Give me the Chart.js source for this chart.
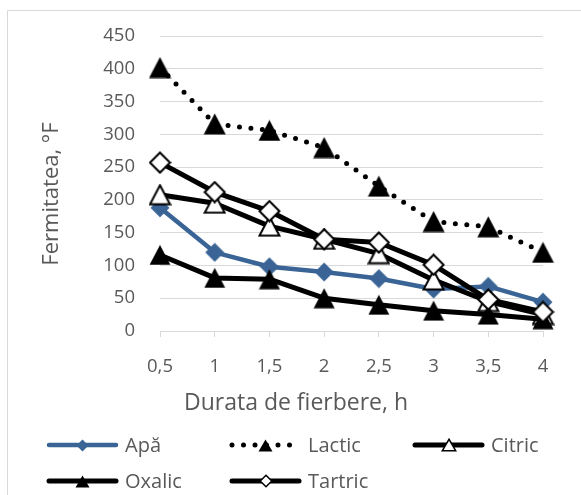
<!DOCTYPE html>
<html>
<head>
<meta charset="utf-8">
<script src="https://cdn.jsdelivr.net/npm/chart.js@4/dist/chart.umd.min.js"></script>
<style>
  html, body { margin: 0; padding: 0; background: #ffffff; }
  #wrap { width: 581px; height: 495px; position: relative; }
</style>
</head>
<body>
<div id="wrap"><canvas id="c" width="581" height="495"></canvas></div>
<script>
// Boiling time (h) and firmness (°F) for each soaking medium
const durations = ['0,5', '1', '1,5', '2', '2,5', '3', '3,5', '4'];
const apa     = [188, 120, 98, 90, 80, 64, 68, 44];
const lactic  = [402, 316, 306, 280, 221, 167, 159, 120];
const citric  = [208, 195, 160, 140, 118, 78, 45, 25];
const oxalic  = [116, 81, 79, 50, 40, 31, 25, 18];
const tartric = [257, 212, 183, 140, 135, 101, 48, 29];
const seriesNames = ['Apă', 'Lactic', 'Citric', 'Oxalic', 'Tartric'];
const xTitle = 'Durata de fierbere, h';
const yTitle = 'Fermitatea, °F';
const yMin = 0, yMax = 450, yStep = 50;

const FONT = "'Open Sans', sans-serif";
const TEXT = '#595959';
const GRID = '#d9d9d9';
const BLUE = '#3a6495';

// Marker sprites, centred on their bounding box
function marker(shape, w, h, fill, lw) {
  const c = document.createElement('canvas');
  c.width = w; c.height = h;
  const g = c.getContext('2d');
  const m = lw ? lw / 2 + 0.5 : 0.5;
  g.beginPath();
  if (shape === 'tri') {
    g.moveTo(w / 2, m); g.lineTo(w - m, h - m); g.lineTo(m, h - m);
  } else {
    g.moveTo(w / 2, m); g.lineTo(w - m, h / 2); g.lineTo(w / 2, h - m); g.lineTo(m, h / 2);
  }
  g.closePath();
  g.fillStyle = fill; g.fill();
  if (lw) { g.lineWidth = lw; g.strokeStyle = '#000'; g.lineJoin = 'miter'; g.stroke(); }
  return c;
}

const marks = {
  apa: marker('dia', 20, 20, BLUE, 0),
  lactic: marker('tri', 23, 22, '#000', 0),
  citric: marker('tri', 23, 22, '#fff', 2),
  oxalic: marker('tri', 22, 21, '#000', 0),
  tartric: marker('dia', 23, 23, '#fff', 2)
};
const legendMarks = [
  marker('dia', 13, 13, BLUE, 0),
  marker('tri', 15, 13, '#000', 0),
  marker('tri', 16, 14, '#fff', 1.5),
  marker('tri', 15, 13, '#000', 0),
  marker('dia', 14, 14, '#fff', 1.5)
];

function series(label, data, color, pt, order, extra) {
  return Object.assign({
    label, data, order,
    borderColor: color,
    backgroundColor: color,
    borderWidth: 5,
    borderJoinStyle: 'round',
    borderCapStyle: 'round',
    tension: 0,
    pointStyle: pt,
    pointRadius: 10,
    pointHoverRadius: 10
  }, extra || {});
}

const datasets = [
  series(seriesNames[0], apa, BLUE, marks.apa, 5, { borderWidth: 4.5 }),
  series(seriesNames[1], lactic, '#000', marks.lactic, 4, { borderDash: [0, 11.5] }),
  series(seriesNames[2], citric, '#000', marks.citric, 3),
  series(seriesNames[3], oxalic, '#000', marks.oxalic, 2),
  series(seriesNames[4], tartric, '#000', marks.tartric, 1)
];

// Outer frame of the chart (top and left edges)
const framePlugin = {
  id: 'frame',
  beforeDraw(chart) {
    const g = chart.ctx;
    g.save();
    g.strokeStyle = GRID; g.lineWidth = 1;
    g.beginPath();
    g.moveTo(7.5, 495); g.lineTo(7.5, 10.5); g.lineTo(581, 10.5);
    g.stroke();
    g.restore();
  }
};

// Axis titles, centred on the whole chart rather than the plot area
const titlesPlugin = {
  id: 'axisTitles',
  afterDraw(chart) {
    const g = chart.ctx;
    g.save();
    g.fillStyle = TEXT;
    g.textAlign = 'center';
    g.textBaseline = 'alphabetic';
    g.font = "23px " + FONT;
    g.fillText(xTitle, 296, 410);
    g.font = "22px " + FONT;
    g.translate(58, 194);
    g.rotate(-Math.PI / 2);
    g.fillText(yTitle, 0, 0);
    g.restore();
  }
};

// Two-row legend laid out on fixed columns
const legendPlugin = {
  id: 'gridLegend',
  afterDraw(chart) {
    const g = chart.ctx;
    const cols = [47, 230, 413];
    const rows = [445, 481];
    const sampleLen = 71;
    chart.data.datasets.forEach((ds, i) => {
      const x = cols[i % 3];
      const y = rows[Math.floor(i / 3)];
      g.save();
      g.strokeStyle = ds.borderColor;
      g.lineWidth = ds.borderWidth;
      g.lineCap = 'round';
      g.setLineDash(ds.borderDash || []);
      g.beginPath();
      g.moveTo(x + 2, y); g.lineTo(x + sampleLen - 2, y);
      g.stroke();
      g.setLineDash([]);
      const mk = legendMarks[i];
      g.drawImage(mk, Math.round(x + sampleLen / 2 - mk.width / 2), Math.round(y - mk.height / 2));
      g.fillStyle = TEXT;
      g.font = "20px " + FONT;
      g.textBaseline = 'middle';
      g.textAlign = 'left';
      g.fillText(ds.label, x + sampleLen + 7, y + 1);
      g.restore();
    });
  }
};

new Chart(document.getElementById('c'), {
  type: 'line',
  data: { labels: durations, datasets },
  plugins: [framePlugin, titlesPlugin, legendPlugin],
  options: {
    responsive: false,
    animation: false,
    devicePixelRatio: 1,
    layout: { padding: { left: 0, right: 38, top: 31, bottom: 64 } },
    plugins: { legend: { display: false }, tooltip: { enabled: false } },
    scales: {
      x: {
        type: 'category',
        offset: false,
        grid: { display: true, drawOnChartArea: false, drawTicks: true, tickLength: 6, color: GRID, lineWidth: 1 },
        border: { display: true, color: GRID, width: 1 },
        ticks: { color: TEXT, font: { family: FONT, size: 18.5 }, padding: 19, maxRotation: 0, autoSkip: false },
        afterFit(s) { s.height = 100; }
      },
      y: {
        min: yMin, max: yMax,
        grid: { color: GRID, lineWidth: 1, drawTicks: false },
        border: { display: false },
        ticks: { stepSize: yStep, color: TEXT, font: { family: FONT, size: 18.5 }, padding: 25 },
        afterFit(s) { s.width = 160; }
      }
    }
  }
});
</script>
</body>
</html>
